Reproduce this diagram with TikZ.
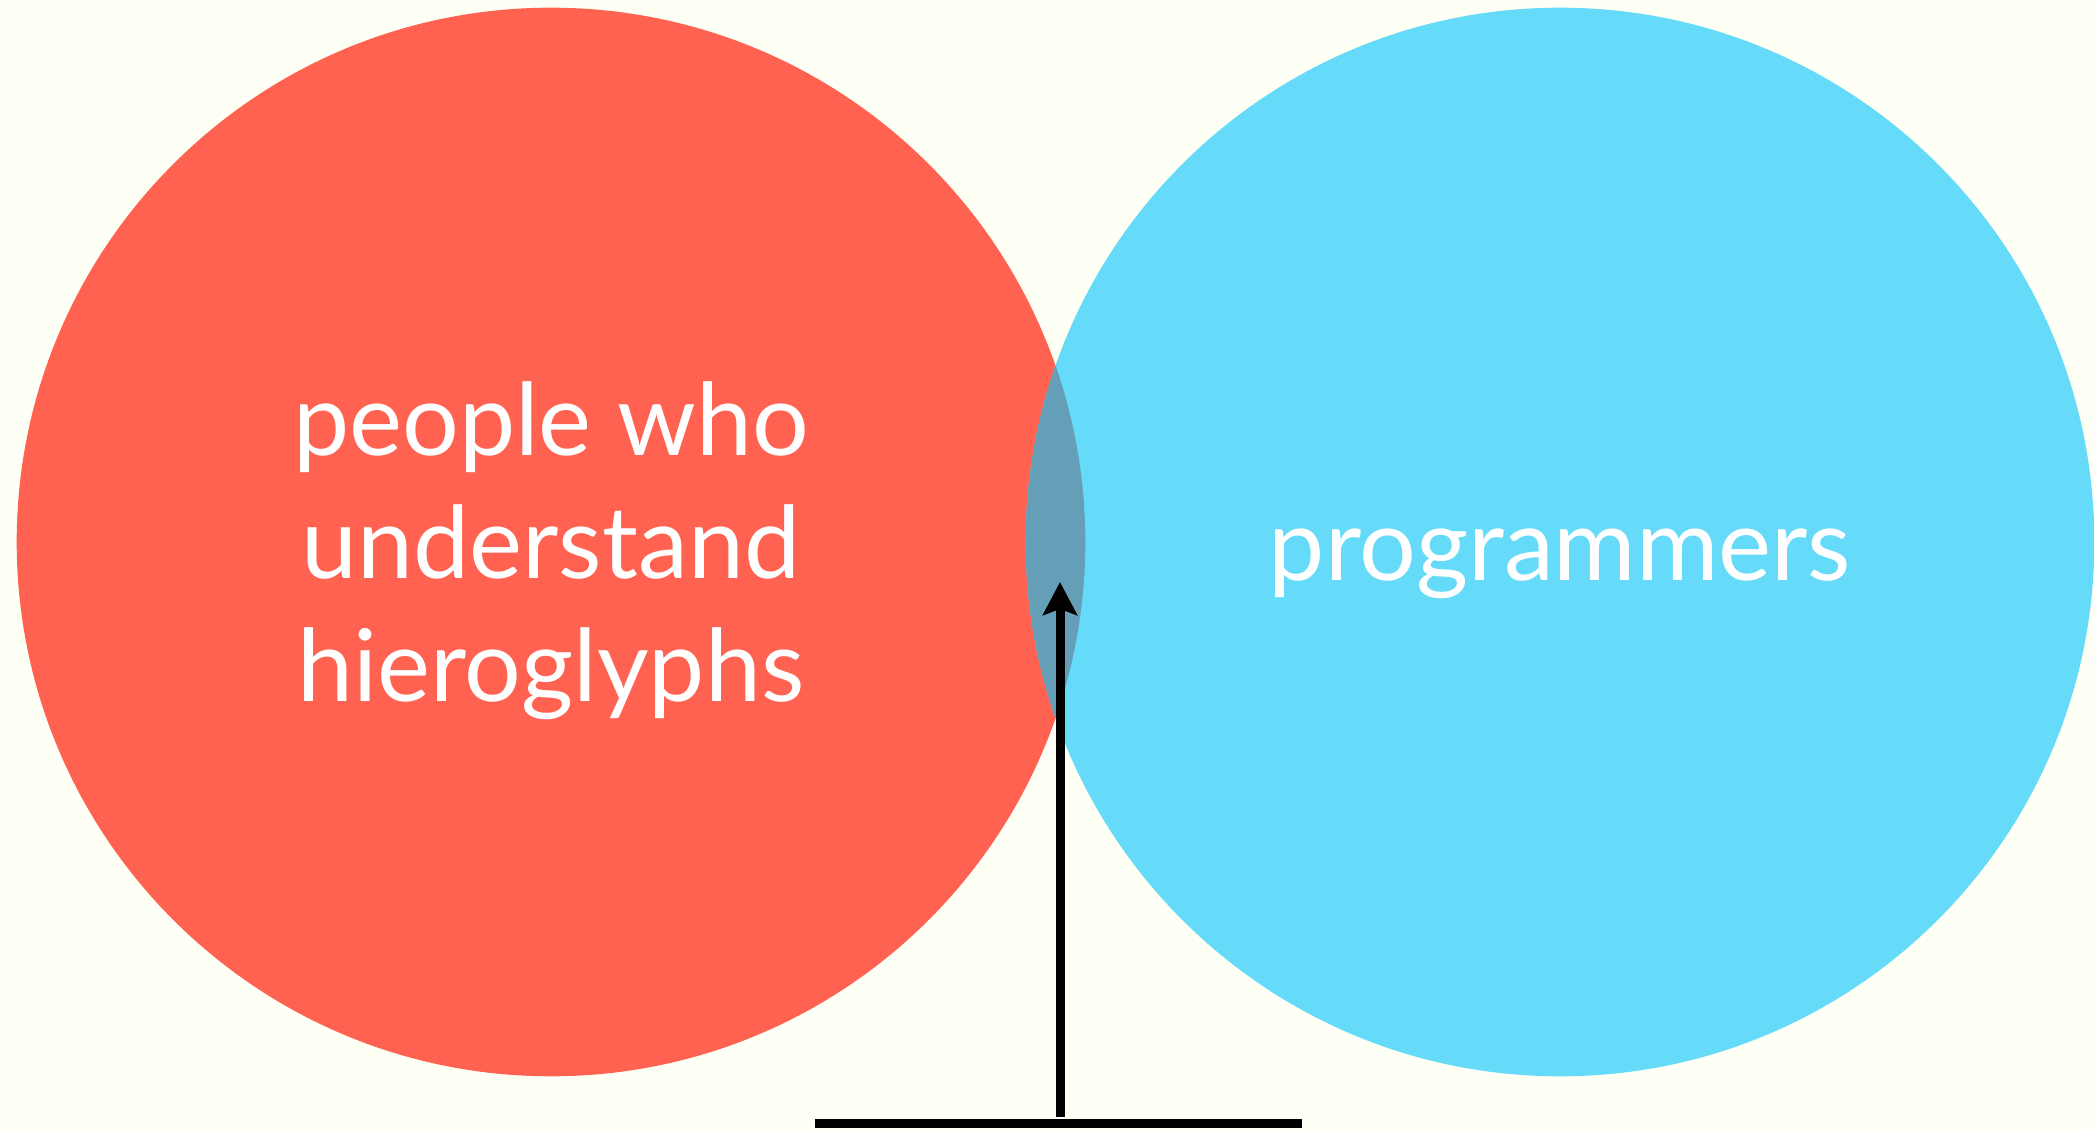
\documentclass[tikz,border=0pt]{standalone}
\usepackage{fontspec}
\setmainfont{Lato}
\usetikzlibrary{arrows.meta,positioning}
\definecolor{bgcream}{RGB}{254,255,245}
\definecolor{setred}{RGB}{255,98,81}
\definecolor{setblue}{RGB}{102,219,249}
\definecolor{setboth}{RGB}{101,159,183}

\begin{document}
\begin{tikzpicture}[
    x=0.01cm, y=0.01cm,
    setcircle/.style={circle, minimum size=10.68cm, inner sep=0pt},
    setlabel/.style={text=white, font=\fontsize{28.5}{35}\selectfont, align=center, anchor=base},
    pointer/.style={line width=0.09cm, -{Stealth[length=0.33cm, width=0.34cm, inset=0.06cm]}}
]
    % background and page size
    \fill[bgcream] (0,0) rectangle (2094,1130);
    \useasboundingbox (0,0) rectangle (2094,1130);

    \node[setcircle, fill=setred] (hiero) at (551,588) {};
    \node[setcircle, fill=setblue] (prog) at (1560,588) {};

    % overlap of both sets
    \begin{scope}
        \clip (hiero.center) circle (5.34cm);
        \fill[setboth] (prog.center) circle (5.34cm);
    \end{scope}

    \node[setlabel] (hierotext) at (551,428) {people who\\understand\\hieroglyphs};
    \node[setlabel] (progtext) at (1560,549) {programmers};

    \coordinate (stem) at (1060,13);
    \coordinate (tip) at (1060,548);
    \coordinate (floorL) at (815,6.5);
    \coordinate (floorR) at (1302,6.5);

    \draw[pointer] (stem) -- (tip);
    \draw[line width=0.09cm] (floorL) -- (floorR);
\end{tikzpicture}
\end{document}
